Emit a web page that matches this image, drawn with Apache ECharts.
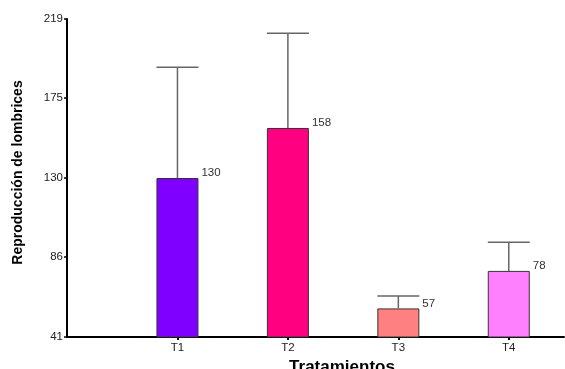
<!DOCTYPE html>
<html>
<head>
<meta charset="utf-8">
<script src="https://cdn.jsdelivr.net/npm/echarts@6/dist/echarts.min.js"></script>
<style>
  html, body { margin: 0; padding: 0; background: #fff; }
  #chart { width: 565px; height: 369px; }
</style>
</head>
<body>
<div id="chart"></div>
<script>
// Treatments and mean worm reproduction, with the upper end of each error bar
const categories = ['T1', 'T2', 'T3', 'T4'];
const means = [130, 158, 57, 78];
const upper = [192, 211, 64, 94];
const barColors = ['#8000ff', '#ff0080', '#ff8080', '#ff80ff'];
const yTicks = [41, 86, 130, 175, 219];
const yMin = 41;
const yMax = 219;

// Treatments sit at positions 1..4 on a numeric x axis starting at the y axis
const positions = categories.map((_, i) => i + 1);

const chart = echarts.init(document.getElementById('chart'));
const BAR_W = 42;
const FONT = '"Liberation Sans", Arial, sans-serif';

chart.setOption({
  animation: false,
  grid: { left: 67, right: 1, top: 19, bottom: 32, containLabel: false, outerBoundsMode: 'none' },
  xAxis: {
    type: 'value',
    min: 0,
    max: 4.5,
    splitLine: { show: false },
    axisLine: { show: true, onZero: false, lineStyle: { color: '#000', width: 2 } },
    axisTick: { show: true, customValues: positions, length: 3, lineStyle: { color: '#000', width: 2 } },
    axisLabel: {
      customValues: positions,
      formatter: v => categories[Math.round(v) - 1] || '',
      color: '#222', fontSize: 11.5, fontFamily: FONT, margin: 5
    },
    name: 'Tratamientos',
    nameLocation: 'middle',
    nameGap: 18,
    nameTextStyle: { fontSize: 17, fontWeight: 'bold', color: '#000', fontFamily: FONT, padding: [0, 0, 0, 53] }
  },
  yAxis: {
    type: 'value',
    min: yMin,
    max: yMax,
    splitLine: { show: false },
    axisLine: { show: true, onZero: false, lineStyle: { color: '#000', width: 2 } },
    axisTick: { show: true, customValues: yTicks, length: 3, lineStyle: { color: '#000', width: 1.5 } },
    axisLabel: {
      customValues: yTicks,
      formatter: v => String(v),
      color: '#222', fontSize: 11.5, fontFamily: FONT, margin: 4
    },
    name: 'Reproducción de lombrices',
    nameLocation: 'middle',
    nameGap: 42,
    nameTextStyle: { fontSize: 14, fontWeight: 'bold', color: '#000', fontFamily: FONT, padding: [0, 0, 0, 11] }
  },
  series: [
    {
      type: 'bar',
      barWidth: BAR_W,
      data: means.map((v, i) => ({
        value: [positions[i], v],
        itemStyle: { color: barColors[i], borderColor: '#333', borderWidth: 1 }
      })),
      label: {
        show: true,
        position: ['100%', 0],
        align: 'left',
        verticalAlign: 'middle',
        offset: [3, -5],
        formatter: p => String(p.value[1]),
        color: '#333',
        fontSize: 11.5,
        fontFamily: FONT
      },
      z: 2
    },
    {
      type: 'custom',
      data: means.map((v, i) => [positions[i], v, upper[i]]),
      renderItem: (params, api) => {
        const x = api.value(0);
        const top = api.coord([x, api.value(2)]);
        const base = api.coord([x, api.value(1)]);
        const half = BAR_W / 2;
        const style = { stroke: '#666', lineWidth: 1.5 };
        return {
          type: 'group',
          children: [
            { type: 'line', shape: { x1: top[0], y1: base[1], x2: top[0], y2: top[1] }, style },
            { type: 'line', shape: { x1: top[0] - half, y1: top[1], x2: top[0] + half, y2: top[1] }, style }
          ]
        };
      },
      z: 3
    }
  ]
});
</script>
</body>
</html>
